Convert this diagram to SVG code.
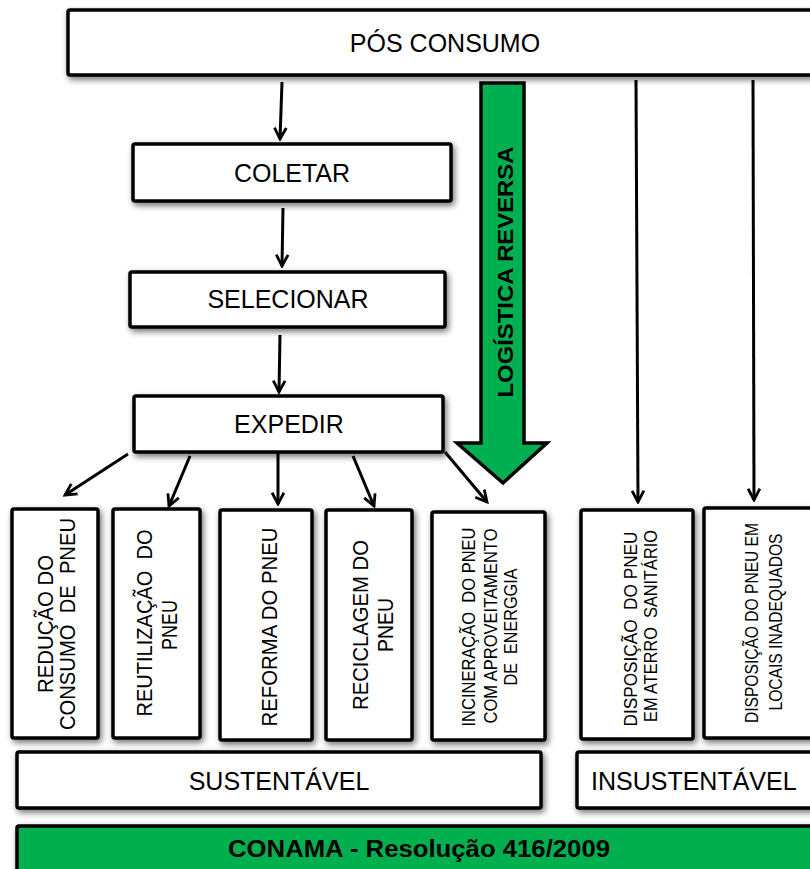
<svg xmlns="http://www.w3.org/2000/svg" width="810" height="869" viewBox="0 0 810 869">
<defs>
<filter id="sh" x="-20%" y="-20%" width="140%" height="140%">
<feGaussianBlur in="SourceAlpha" stdDeviation="3"/>
<feOffset dx="2" dy="3" result="b"/>
<feComponentTransfer><feFuncA type="linear" slope="0.55"/></feComponentTransfer>
<feMerge><feMergeNode/><feMergeNode in="SourceGraphic"/></feMerge>
</filter>
<marker id="ah" viewBox="0 0 14 14" refX="12" refY="7" markerWidth="15" markerHeight="15" markerUnits="userSpaceOnUse" orient="auto">
<path d="M1.5,1.5 L12,7 L1.5,12.5" fill="none" stroke="#000" stroke-width="2.6" stroke-linejoin="miter"/>
</marker>
<style>
.box{fill:#fff;stroke:#000;stroke-width:3.5;filter:url(#sh)}
.gbox{fill:#00B050;stroke:#000;stroke-width:3.5;filter:url(#sh)}
.t{font-family:"Liberation Sans",Arial,sans-serif;font-size:25px;fill:#000;text-anchor:middle}
.v{font-family:"Liberation Sans",Arial,sans-serif;font-size:22px;fill:#000;text-anchor:middle}
.s{font-family:"Liberation Sans",Arial,sans-serif;font-size:18px;fill:#000;text-anchor:middle}
.b{font-family:"Liberation Sans",Arial,sans-serif;font-weight:bold;fill:#000;text-anchor:middle}
.c{fill:none;stroke:#000;stroke-width:3;marker-end:url(#ah)}
</style>
</defs>
<rect width="810" height="869" fill="#fff"/>

<g id="pos-consumo">
<rect class="box" x="68" y="10" width="760" height="65" rx="2"/>
<text class="t" x="445" y="52">PÓS CONSUMO</text>
</g>

<g id="logistica-reversa">
<polygon points="481,83 524,83 524,443 547,443 503,483 457,443 481,443" fill="#00B050" stroke="#000" stroke-width="3.5" stroke-linejoin="miter"/>
<text class="b" font-size="22" transform="translate(513,272) rotate(-90)" textLength="251" lengthAdjust="spacingAndGlyphs">LOGÍSTICA REVERSA</text>
</g>

<g id="coletar">
<rect class="box" x="133" y="144" width="318" height="57" rx="2"/>
<text class="t" x="292" y="182">COLETAR</text>
</g>

<g id="selecionar">
<rect class="box" x="130" y="272" width="315" height="55" rx="2"/>
<text class="t" x="288" y="308">SELECIONAR</text>
</g>

<g id="expedir">
<rect class="box" x="134" y="396" width="309" height="56" rx="2"/>
<text class="t" x="289" y="433">EXPEDIR</text>
</g>

<g id="reducao">
<rect class="box" x="12" y="509" width="86" height="229" rx="2"/>
<text class="v" transform="translate(53,624) rotate(-90)" textLength="138" lengthAdjust="spacingAndGlyphs">REDUÇÃO DO</text>
<text class="v" transform="translate(75,624) rotate(-90)" xml:space="preserve" textLength="212" lengthAdjust="spacingAndGlyphs">CONSUMO  DE  PNEU</text>
</g>

<g id="reutilizacao">
<rect class="box" x="113" y="509" width="87" height="229" rx="2"/>
<text class="v" transform="translate(152,623) rotate(-90)" xml:space="preserve" textLength="187" lengthAdjust="spacingAndGlyphs">REUTILIZAÇÃO  DO</text>
<text class="v" transform="translate(177,625) rotate(-90)" textLength="50" lengthAdjust="spacingAndGlyphs">PNEU</text>
</g>

<g id="reforma">
<rect class="box" x="220" y="510" width="92" height="230" rx="2"/>
<text class="v" transform="translate(277,627) rotate(-90)" textLength="199" lengthAdjust="spacingAndGlyphs">REFORMA DO PNEU</text>
</g>

<g id="reciclagem">
<rect class="box" x="326" y="510" width="86" height="230" rx="2"/>
<text class="v" transform="translate(368,625) rotate(-90)" textLength="170" lengthAdjust="spacingAndGlyphs">RECICLAGEM DO</text>
<text class="v" transform="translate(393,625) rotate(-90)" textLength="54" lengthAdjust="spacingAndGlyphs">PNEU</text>
</g>

<g id="incineracao">
<rect class="box" x="432" y="512" width="113" height="228" rx="2"/>
<text class="s" transform="translate(475,627) rotate(-90)" xml:space="preserve" textLength="199" lengthAdjust="spacingAndGlyphs">INCINERAÇÃO  DO PNEU</text>
<text class="s" transform="translate(497,626) rotate(-90)" textLength="195" lengthAdjust="spacingAndGlyphs">COM APROVEITAMENTO</text>
<text class="s" transform="translate(517,627) rotate(-90)" xml:space="preserve" textLength="117" lengthAdjust="spacingAndGlyphs">DE  ENERGGIA</text>
</g>

<g id="aterro">
<rect class="box" x="581" y="510" width="112" height="229" rx="2"/>
<text class="s" transform="translate(637,629) rotate(-90)" xml:space="preserve" textLength="195" lengthAdjust="spacingAndGlyphs">DISPOSIÇÃO  DO PNEU</text>
<text class="s" transform="translate(657,626) rotate(-90)" xml:space="preserve" textLength="192" lengthAdjust="spacingAndGlyphs">EM ATERRO  SANITÁRIO</text>
</g>

<g id="locais">
<rect class="box" x="704" y="508" width="120" height="230" rx="2"/>
<text class="s" transform="translate(758,623) rotate(-90)" textLength="200" lengthAdjust="spacingAndGlyphs">DISPOSIÇÃO DO PNEU EM</text>
<text class="s" transform="translate(782,622) rotate(-90)" textLength="177" lengthAdjust="spacingAndGlyphs">LOCAIS INADEQUADOS</text>
</g>

<g id="sustentavel">
<rect class="box" x="17" y="752" width="524" height="56" rx="2"/>
<text class="t" x="279" y="790">SUSTENTÁVEL</text>
</g>

<g id="insustentavel">
<rect class="box" x="577" y="752" width="250" height="56" rx="2"/>
<text class="t" x="591" y="790" style="text-anchor:start">INSUSTENTÁVEL</text>
</g>

<g id="conama">
<rect class="gbox" x="17" y="826" width="810" height="60" rx="2"/>
<text class="b" font-size="23" x="419" y="857" textLength="382" lengthAdjust="spacingAndGlyphs">CONAMA - Resolução 416/2009</text>
</g>

<g id="connectors">
<line class="c" x1="282" y1="82" x2="280" y2="139"/>
<line class="c" x1="283" y1="208" x2="282" y2="266"/>
<line class="c" x1="280" y1="335" x2="279" y2="392"/>
<line class="c" x1="128" y1="454" x2="65" y2="495"/>
<line class="c" x1="190" y1="456" x2="169" y2="506"/>
<line class="c" x1="278" y1="453" x2="278" y2="504"/>
<line class="c" x1="353" y1="456" x2="374" y2="506"/>
<line class="c" x1="445" y1="452" x2="487" y2="502"/>
<line class="c" x1="636" y1="80" x2="638" y2="502"/>
<line class="c" x1="753" y1="80" x2="754" y2="500"/>
</g>
</svg>
